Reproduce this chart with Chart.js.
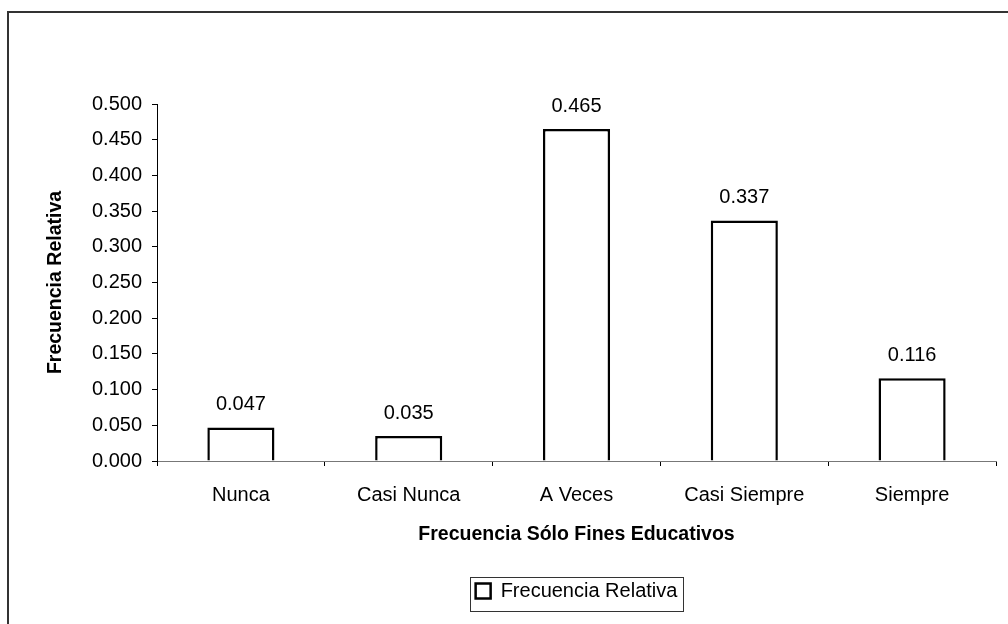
<!DOCTYPE html>
<html>
<head>
<meta charset="utf-8">
<script src="https://cdn.jsdelivr.net/npm/chart.js@4"></script>
<style>
  html, body { margin: 0; padding: 0; background: #fff; }
  #wrap { width: 1008px; height: 624px; position: relative; }
</style>
</head>
<body>
<div id="wrap"><canvas id="chart"></canvas></div>
<script>
const categories = ['Nunca', 'Casi Nunca', 'A Veces', 'Casi Siempre', 'Siempre'];
const relFreq = [0.047, 0.035, 0.465, 0.337, 0.116];
const seriesName = 'Frecuencia Relativa';
const xTitle = 'Frecuencia Sólo Fines Educativos';
const yTitle = 'Frecuencia Relativa';
const yMin = 0, yMax = 0.5, yStep = 0.05;

const FONT = '"Liberation Sans", Arial, sans-serif';

// outer frame of the original picture
const framePlugin = {
  id: 'frame',
  beforeDraw(chart) {
    const ctx = chart.ctx;
    ctx.save();
    ctx.strokeStyle = '#333';
    ctx.lineWidth = 2;
    ctx.strokeRect(8, 12, 2000, 2000);
    ctx.restore();
  }
};

// centre the legend under the plot area, not the whole canvas
const legendShift = {
  id: 'legendShift',
  afterLayout(chart) {
    const lg = chart.legend;
    const ca = chart.chartArea;
    lg.left = ca.left;
    lg.right = ca.right;
    lg.width = ca.right - ca.left;
  },
  afterDraw(chart) {
    const box = chart.legend.legendHitBoxes[0];
    if (!box) return;
    const ctx = chart.ctx;
    ctx.save();
    ctx.strokeStyle = '#333';
    ctx.lineWidth = 1;
    ctx.strokeRect(Math.round(box.left) - 5.5, 577.5, Math.round(box.width) + 11, 34);
    ctx.restore();
  }
};

// value labels above bars
const valueLabels = {
  id: 'valueLabels',
  afterDatasetsDraw(chart) {
    const ctx = chart.ctx;
    const meta = chart.getDatasetMeta(0);
    ctx.save();
    ctx.font = '20px ' + FONT;
    ctx.fillStyle = '#000';
    ctx.textAlign = 'center';
    ctx.textBaseline = 'alphabetic';
    meta.data.forEach((bar, i) => {
      ctx.fillText(relFreq[i].toFixed(3), bar.x, bar.y - 17);
    });
    ctx.restore();
  }
};

new Chart(document.getElementById('chart'), {
  type: 'bar',
  data: {
    labels: categories,
    datasets: [{
      label: seriesName,
      data: relFreq,
      backgroundColor: '#fff',
      borderColor: '#000',
      borderWidth: 2.5,
      barPercentage: 0.4,
      categoryPercentage: 1.0
    }]
  },
  plugins: [framePlugin, legendShift, valueLabels],
  options: {
    responsive: true,
    maintainAspectRatio: false,
    animation: false,
    layout: { padding: { top: 104, right: 12, left: 0, bottom: 13 } },
    plugins: {
      tooltip: { enabled: false },
      legend: {
        position: 'bottom',
        labels: {
          color: '#000',
          font: { family: FONT, size: 20 },
          boxWidth: 15,
          boxHeight: 15,
          padding: 8
        }
      }
    },
    scales: {
      x: {
        afterFit: (s) => { s.height = 112; },
        grid: { display: true, drawOnChartArea: false, drawTicks: true, tickLength: 5, color: '#000', offset: true },
        border: { color: '#777', width: 1 },
        ticks: { color: '#000', font: { family: FONT, size: 20 }, padding: 17, maxRotation: 0 },
        title: {
          display: true,
          text: xTitle,
          color: '#000',
          font: { family: FONT, size: 19.5, weight: 'bold' },
          padding: { top: 0, bottom: 27 }
        }
      },
      y: {
        min: yMin,
        max: yMax,
        afterFit: (s) => { s.width = 157; },
        grid: { display: true, drawOnChartArea: false, drawTicks: true, tickLength: 5, color: '#000' },
        border: { color: '#000', width: 1 },
        ticks: {
          stepSize: yStep,
          color: '#000',
          font: { family: FONT, size: 20 },
          padding: 10,
          callback: (v) => v.toFixed(3)
        },
        title: {
          display: true,
          text: yTitle,
          color: '#000',
          font: { family: FONT, size: 19.5, weight: 'bold' },
          padding: { top: 44, bottom: 0 }
        }
      }
    }
  }
});
</script>
</body>
</html>
